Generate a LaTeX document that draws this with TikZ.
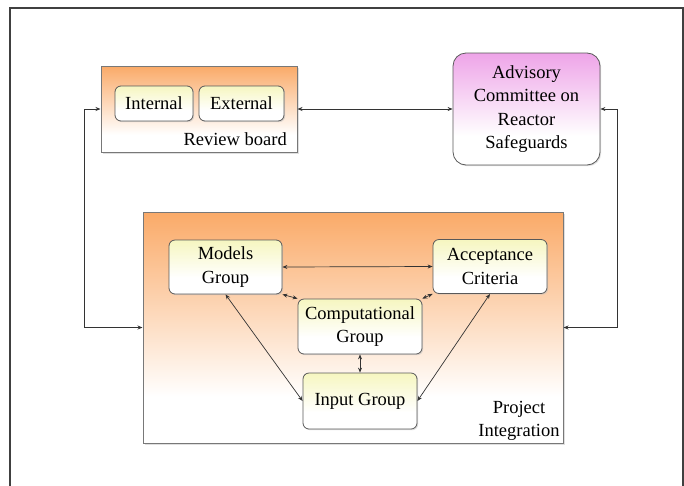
\documentclass[tikz,border=0pt]{standalone}
\usepackage{fontspec}
\setmainfont{Liberation Serif}
\usepackage{xcolor}
\usepackage{tikz}
\usetikzlibrary{arrows.meta,shadows}

\definecolor{boardorange}{RGB}{250,170,104}
\definecolor{acrspink}{RGB}{238,164,232}
\definecolor{groupyellow}{RGB}{246,246,192}
\definecolor{frameline}{RGB}{120,120,120}

\pgfdeclareverticalshading{boardfade}{100bp}{color(0bp)=(white); color(25bp)=(white); color(35bp)=(white); color(75bp)=(boardorange); color(100bp)=(boardorange)}
\pgfdeclareverticalshading{acrsfade}{100bp}{color(0bp)=(white); color(25bp)=(white); color(38bp)=(white); color(75bp)=(acrspink); color(100bp)=(acrspink)}
\pgfdeclareverticalshading{groupfade}{100bp}{color(0bp)=(white); color(25bp)=(white); color(40bp)=(white); color(75bp)=(groupyellow); color(100bp)=(groupyellow)}

\tikzset{
  boardbox/.style={draw=frameline, line width=1pt, rectangle, shading=boardfade,
    drop shadow={shadow xshift=1.5pt, shadow yshift=-1.5pt, fill=gray!50}},
  groupbox/.style={draw=black!65, line width=0.8pt, rectangle, rounded corners=6pt,
    shading=groupfade, align=center, inner sep=2pt,
    drop shadow={shadow xshift=1.2pt, shadow yshift=-1.2pt, fill=gray!50}},
  acrsbox/.style={draw=black!65, line width=0.8pt, rectangle, rounded corners=13pt,
    shading=acrsfade, align=center,
    drop shadow={shadow xshift=1.2pt, shadow yshift=-1.2pt, fill=gray!50}},
  linkarrow/.style={<->, >={Stealth[length=5pt,width=4pt]}, line width=0.7pt, draw=black!80}
}

\begin{document}
\begin{tikzpicture}[x=1pt, y=-1pt, every node/.style={font=\fontsize{18.5}{23.5}\selectfont}]
    \useasboundingbox (0,0) rectangle (684,485);
    % Outer frame
    \draw[line width=1.5pt, black!75] (10,495) -- (10,8) -- (683,8) -- (683,495);

    % Review board
    \node[boardbox, minimum width=196pt, minimum height=86pt] (review) at (199,109) {};
    \node[groupbox, minimum width=78pt, minimum height=35pt] (internal) at (154,103.5) {Internal};
    \node[groupbox, minimum width=85pt, minimum height=35pt] (external) at (241.5,103.5) {External};
    \node[anchor=east, inner sep=0pt] (reviewlbl) at (287,139) {Review board};

    % Advisory committee
    \node[acrsbox, minimum width=147pt, minimum height=112pt] (acrs) at (526.5,109)
        {Advisory\\Committee on\\Reactor\\Safeguards};

    % Project integration
    \node[boardbox, minimum width=420pt, minimum height=231pt] (project) at (353,327.5) {};
    \node[align=center, inner sep=0pt] (projectlbl) at (519,421) {Project\\Integration};

    % Groups
    \node[groupbox, minimum width=113pt, minimum height=54pt] (models) at (225.5,267) {Models\\Group};
    \node[groupbox, minimum width=114pt, minimum height=54pt] (accept) at (490,266.5) {Acceptance\\Criteria};
    \node[groupbox, minimum width=124pt, minimum height=55pt] (comp) at (360,326.5) {Computational\\Group};
    \node[groupbox, minimum width=114pt, minimum height=56pt] (input) at (360,401) {Input Group};

    % Bus lines
    \coordinate (lbus) at (84,109);
    \coordinate (rbus) at (617,109);

    % Arrows
    \draw[linkarrow] (review.west) -- (lbus) |- (project.west);
    \draw[linkarrow] (review.east) -- (acrs.west);
    \draw[linkarrow] (acrs.east) -- (rbus) |- (project.east);
    \draw[linkarrow] (models.east) -- (accept.west);
    \draw[linkarrow] (models.south east) -- (comp.north west);
    \draw[linkarrow] (accept.south west) -- (comp.north east);
    \draw[linkarrow] (models.south) -- (input.west);
    \draw[linkarrow] (accept.south) -- (input.east);
    \draw[linkarrow] (comp.south) -- (input.north);
\end{tikzpicture}
\end{document}
